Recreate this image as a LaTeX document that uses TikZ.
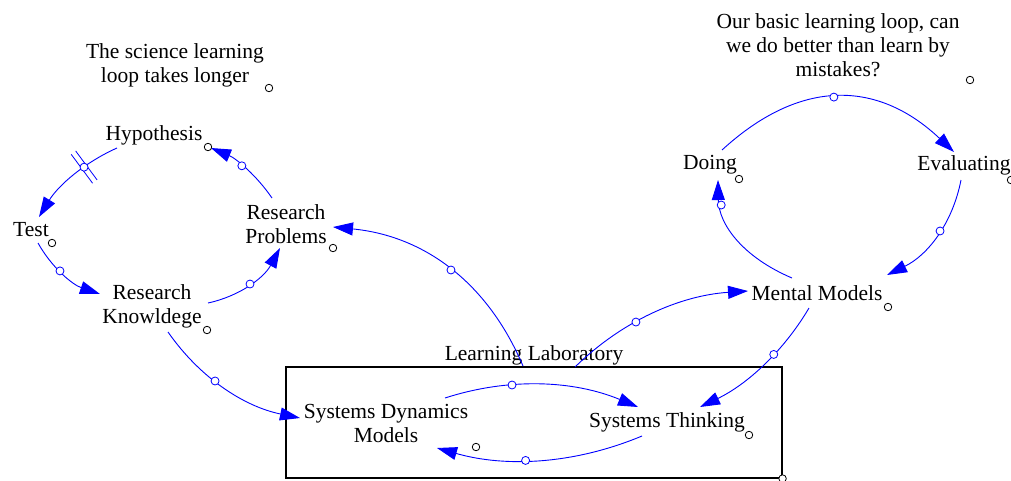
\documentclass[tikz,border=0pt]{standalone}
\usepackage{fontspec}
\setmainfont{Liberation Serif}
\usetikzlibrary{arrows.meta,decorations.markings}
\definecolor{linkblue}{RGB}{0,0,255}
\begin{document}
\begin{tikzpicture}[x=1pt,y=-1pt,
  var/.style={font=\fontsize{21.5}{24}\selectfont, inner sep=0pt, align=center, text=black},
  marker/.style={circle, draw=black, fill=white, line width=0.8pt, minimum size=7.5pt, inner sep=0pt},
  handle/.style={circle, draw=linkblue, fill=white, line width=0.8pt, minimum size=8pt, inner sep=0pt},
  link/.style={draw=linkblue, line width=0.9pt, -{Triangle[length=20pt,width=13pt]}},
  delay/.style={postaction={decorate, decoration={markings,
      mark=at position #1 with {\draw[arrows=-, draw=linkblue, line width=0.8pt]
        (-2.8,-18) -- (-2.8,18) (2.8,-18) -- (2.8,18);}}}},
]
\useasboundingbox (0,0) rectangle (1011,480);

% variables
\node[var] (sci) at (175,65) {The science learning\\loop takes longer};
\node[var] (hyp) at (154,135) {Hypothesis};
\node[var] (test) at (31,230) {Test};
\node[var] (rk) at (152,306) {Research\\Knowldege};
\node[var] (rp) at (286,224) {Research\\Problems};
\node[var] (basic) at (838,45) {Our basic learning loop, can\\we do better than learn by\\mistakes?};
\node[var] (doing) at (710,165) {Doing};
\node[var] (eval) at (964,165) {Evaluating};
\node[var] (mm) at (817,293) {Mental Models};
\node[draw=black, line width=1.1pt, minimum width=496pt, minimum height=111pt, inner sep=0pt] (lab) at (534,422.5) {};
\node[var] (labname) at (534,355) {Learning Laboratory};
\node[var] (sdm) at (386,423) {Systems Dynamics\\Models};
\node[var] (st) at (667,422) {Systems Thinking};

% science loop
\draw[link, delay=0.36] ([shift={(-37,13)}]hyp.center) .. controls +(-32.9,14.7) and +(19.1,-31.3) .. ([shift={(8,-13)}]test.center) node[handle, pos=0.361] {};
\draw[link] ([shift={(7,13)}]test.center) .. controls +(13.8,24.7) and +(-27.5,-9.3) .. ([shift={(-52,-12)}]rk.center) node[handle, pos=0.436] {};
\draw[link] ([shift={(56,-3)}]rk.center) .. controls +(32,-7) and +(-16,29.7) .. ([shift={(-6,24)}]rp.center) node[handle, pos=0.5] {};
\draw[link] ([shift={(-14,-26)}]rp.center) .. controls +(-15.7,-22.9) and +(25,10.4) .. ([shift={(57,13)}]hyp.center) node[handle, pos=0.551] {};
\draw[link] ([shift={(16,26)}]rk.center) .. controls +(32,45.9) and +(-56,-11.5) .. ([shift={(-86,-5)}]sdm.center) node[handle, pos=0.423] {};

% laboratory outputs
\draw[link] ([shift={(-11,-56.5)}]lab.center) .. controls +(-35.5,-83.7) and +(91.2,8.9) .. ([shift={(47,3)}]rp.center) node[handle, pos=0.489] {};
\draw[link] ([shift={(41,-55.5)}]lab.center) .. controls +(47.3,-46.2) and +(-68,4.5) .. ([shift={(-69,-2)}]mm.center) node[handle, pos=0.395] {};

% basic loop
\draw[link] ([shift={(12,-15)}]doing.center) .. controls +(77.7,-71.3) and +(-77,-72.6) .. ([shift={(-10,-13)}]eval.center) node[handle, pos=0.481] {};
\draw[link] ([shift={(-3,15)}]eval.center) .. controls +(-8.5,43.4) and +(40.8,-19.9) .. ([shift={(70,-18)}]mm.center) node[handle, pos=0.445] {};
\draw[link] ([shift={(-25,-15)}]mm.center) .. controls +(-48.7,-20.7) and +(0.7,44.7) .. ([shift={(8,15)}]doing.center) node[handle, pos=0.803] {};
\draw[link] ([shift={(-8,15)}]mm.center) .. controls +(-25.7,43.5) and +(46.9,-22.5) .. ([shift={(33,-15)}]st.center) node[handle, pos=0.393] {};

% inside the laboratory
\draw[link] ([shift={(59,-25)}]sdm.center) .. controls +(64.1,-20.7) and +(-64.5,-26.7) .. ([shift={(-29,-15)}]st.center) node[handle, pos=0.348] {};
\draw[link] ([shift={(-25,14)}]st.center) .. controls +(-66.9,27.9) and +(69.8,19.9) .. ([shift={(51,25)}]sdm.center) node[handle, pos=0.573] {};

% variable markers
\node[marker] (sci-m) at (269,88) {};
\node[marker] (hyp-m) at (208,147) {};
\node[marker] (test-m) at (52,243) {};
\node[marker] (rk-m) at (207,330) {};
\node[marker] (rp-m) at (333,248) {};
\node[marker] (basic-m) at (970,80) {};
\node[marker] (doing-m) at (739,179) {};
\node[marker] (eval-m) at (1011,180) {};
\node[marker] (mm-m) at (888,307) {};
\node[marker] (sdm-m) at (476,447) {};
\node[marker] (st-m) at (749,435) {};
\node[marker] (lab-m) at (lab.south east) {};
\end{tikzpicture}
\end{document}
